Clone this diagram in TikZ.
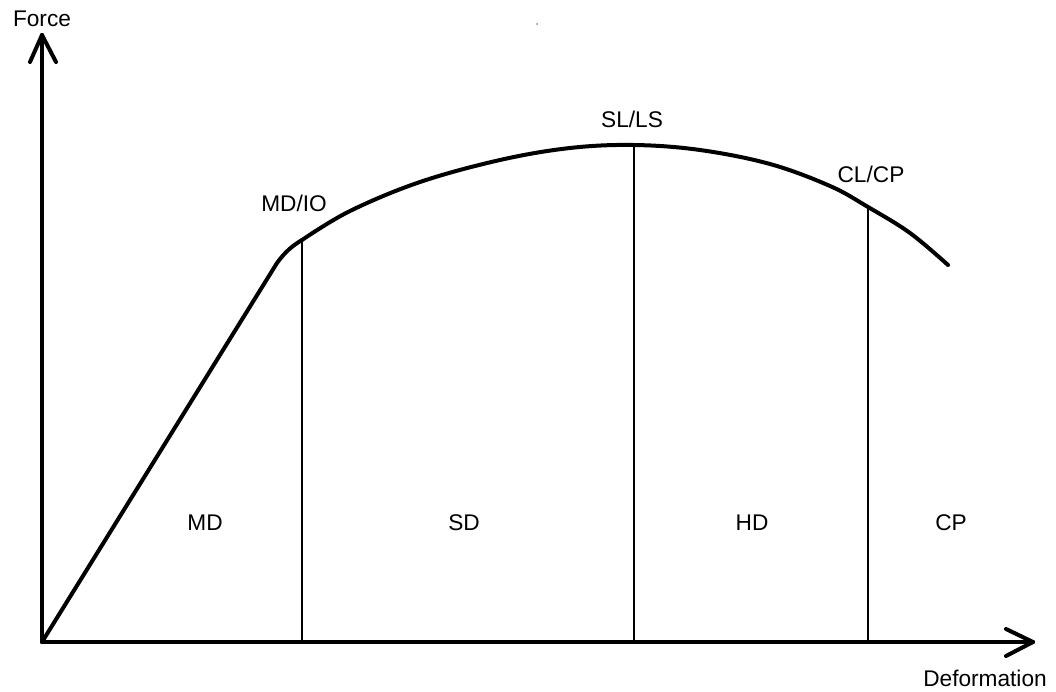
\documentclass[tikz,border=0pt]{standalone}
\usepackage{fontspec}
\setmainfont{Liberation Sans}
\begin{document}
\begin{tikzpicture}[x=0.75pt,y=-0.75pt,
  axis/.style={line width=3pt,line cap=round,line join=round},
  curve/.style={line width=3pt,line cap=round,line join=round},
  divider/.style={line width=0.8pt},
  lbl/.style={inner sep=0pt,font=\fontsize{17}{20}\selectfont},
  bar/.style={line width=3pt,line cap=round}]
\useasboundingbox (0,0) rectangle (1056,692);
% coordinates
\coordinate (O) at (42,642);
\coordinate (ytip) at (42,35);
\coordinate (xtip) at (1033,642);
\coordinate (knee) at (277,263);
\coordinate (p1) at (302,240);
\coordinate (p2) at (634,145);
\coordinate (p3) at (868,207);
\coordinate (b1) at (302,642);
\coordinate (b2) at (634,642);
\coordinate (b3) at (868,642);
% axes
\draw[axis] (O) -- (ytip);
\draw[bar] (ytip) -- (30,62);
\draw[bar] (ytip) -- (56,62);
\draw[axis] (O) -- (xtip);
\draw[bar] (xtip) -- (1006,629);
\draw[bar] (xtip) -- (1006,656);
% curve
\draw[curve] (O) -- (knee) .. controls (285,252) and (292,246) .. (p1);
\draw[curve] plot[smooth,tension=0.6] coordinates {(302,240) (350,211) (420,182) (500,160) (570,148) (634,145) (700,150) (770,164) (830,186) (868,207) (910,233) (948,265)};
% dividers
\draw[divider] (p1) -- (b1);
\draw[divider] (p2) -- (b2);
\draw[divider] (p3) -- (b3);
% labels
\node[lbl] (force) at (42,19) {Force};
\node[lbl] (deform) at (985,678) {Deformation};
\node[lbl] (mdio) at (294,203) {MD/IO};
\node[lbl] (slls) at (632,119) {SL/LS};
\node[lbl] (clcp) at (871,174) {CL/CP};
\node[lbl] (md) at (205,523) {MD};
\node[lbl] (sd) at (464,523) {SD};
\node[lbl] (hd) at (752,523) {HD};
\node[lbl] (cp) at (951,523) {CP};
\fill[gray] (537,24) circle (1);
\end{tikzpicture}
\end{document}
